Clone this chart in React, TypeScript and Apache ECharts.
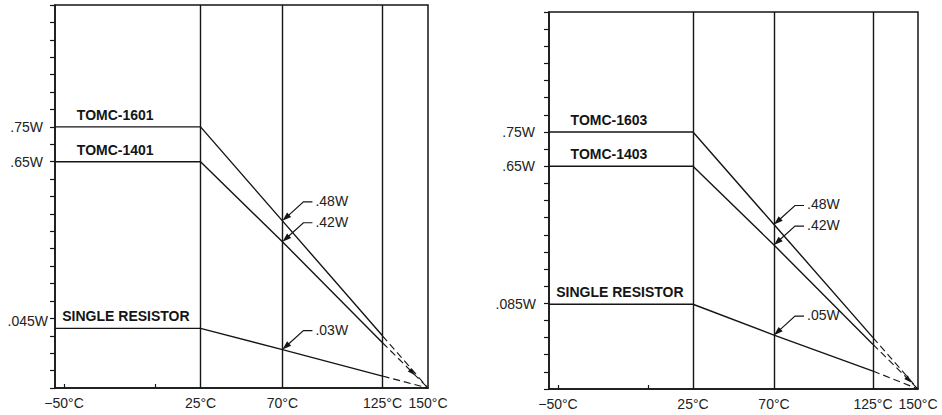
import React, { useEffect, useRef } from "react";
import * as echarts from "echarts";

// ---- data ----
const tempBreaks = [-55, 25, 70, 125]; // °C: axis start, derating knee, 70°C, 125°C
const zeroTemp = 150; // extrapolated zero-power temperature
const xLabelTemps = [-50, 25, 70, 125, 150];
const xMinorTicks = [-50, 0];
const gridTemps = [25, 70, 125];

// left panel
const aNames = ["TOMC-1601", "TOMC-1401", "SINGLE RESISTOR"];
const aTomcHigh = [0.75, 0.75, 0.48, 0.15];
const aTomcLow = [0.65, 0.65, 0.42, 0.13];
const aSingle = [0.045, 0.045, 0.029, 0.009];
const aCallouts = [".48W", ".42W", ".03W"];
const aYLabels = [0.75, 0.65];
const aSingleLabel = 0.045;

// right panel
const bNames = ["TOMC-1603", "TOMC-1403", "SINGLE RESISTOR"];
const bTomcHigh = [0.75, 0.75, 0.48, 0.15];
const bTomcLow = [0.65, 0.65, 0.42, 0.13];
const bSingle = [0.085, 0.085, 0.054, 0.018];
const bCallouts = [".48W", ".42W", ".05W"];
const bYLabels = [0.75, 0.65];
const bSingleLabel = 0.085;

const INK = "#151515";
const FONT = '"Liberation Sans", Arial, Helvetica, sans-serif';

const fmtW = (v: number) => String(v).replace(/^0\./, ".") + "W";
const near = (a: number, b: number) => Math.abs(a - b) < 1e-6;

export default function App() {
  const ref = useRef<HTMLDivElement>(null);
  useEffect(() => {
    if (!ref.current) return;
    const chart = echarts.init(ref.current, undefined, { renderer: "svg" });

    const panels = [
      { names: aNames, high: aTomcHigh, low: aTomcLow, single: aSingle, callouts: aCallouts, yLabels: aYLabels, singleLabel: aSingleLabel, singleMax: 0.289, yMargin: 12, sMargin: 7, sVA: "bottom", arrowT: 0.72 },
      { names: bNames, high: bTomcHigh, low: bTomcLow, single: bSingle, callouts: bCallouts, yLabels: bYLabels, singleLabel: bSingleLabel, singleMax: 0.378, yMargin: 14, sMargin: 13, sVA: "middle", arrowT: 0.86 },
    ];
    const grids = [
      { left: 55, top: 5, width: 373, height: 383 },
      { left: 549, top: 12, width: 369, height: 377 },
    ];

    const xAxis: any[] = [];
    const yAxis: any[] = [];
    const series: any[] = [];

    panels.forEach((p, gi) => {
      xAxis.push({
        type: "value",
        gridIndex: gi,
        min: -55,
        max: zeroTemp,
        axisLine: { show: true, onZero: false, lineStyle: { color: INK, width: 1.5 } },
        axisTick: { show: true, inside: true, length: 4, customValues: xMinorTicks, lineStyle: { color: INK, width: 1.2 } },
        axisLabel: {
          show: true,
          customValues: xLabelTemps,
          margin: 8,
          fontSize: 14,
          fontFamily: FONT,
          color: "#222",
          formatter: (v: number) => (v < 0 ? "\u2212" + Math.abs(v) + "°C" : v + "°C"),
        },
        splitLine: { show: false },
      });
      yAxis.push({
        type: "value",
        gridIndex: gi,
        position: "left",
        min: 0,
        max: 1.1,
        interval: 0.05,
        axisLine: { show: true, onZero: false, lineStyle: { color: INK, width: 1.5 } },
        axisTick: { show: true, length: 5, lineStyle: { color: INK, width: 1.2 } },
        axisLabel: {
          margin: p.yMargin,
          fontSize: 14,
          fontFamily: FONT,
          color: "#222",
          formatter: (v: number) => (p.yLabels.some((l) => near(l, v)) ? fmtW(v) : ""),
        },
        splitLine: { show: false },
      });
      yAxis.push({
        type: "value",
        gridIndex: gi,
        position: "left",
        offset: 0,
        min: 0,
        max: p.singleMax,
        interval: p.singleLabel,
        axisLine: { show: false, onZero: false },
        axisTick: { show: false },
        axisLabel: {
          margin: p.sMargin,
          fontSize: 14,
          fontFamily: FONT,
          color: "#222",
          verticalAlign: p.sVA,
          formatter: (v: number) => (near(v, p.singleLabel) ? fmtW(v) : ""),
        },
        splitLine: { show: false },
      });
      const yPrim = gi * 2;
      const ySec = gi * 2 + 1;
      const lines = [
        { name: p.names[0], vals: p.high, yi: yPrim },
        { name: p.names[1], vals: p.low, yi: yPrim },
        { name: p.names[2], vals: p.single, yi: ySec },
      ];
      lines.forEach((l, li) => {
        series.push({
          type: "line",
          name: l.name,
          xAxisIndex: gi,
          yAxisIndex: l.yi,
          data: tempBreaks.map((t, i) => [t, l.vals[i]]),
          symbol: "none",
          lineStyle: { color: INK, width: 1.4 },
          silent: true,
          markLine:
            li === 0
              ? {
                  silent: true,
                  symbol: ["none", "none"],
                  label: { show: false },
                  lineStyle: { color: INK, width: 1.4, type: "solid" },
                  data: gridTemps.map((t) => ({ xAxis: t })),
                }
              : undefined,
        });
        series.push({
          type: "line",
          name: l.name + " (extrapolated)",
          xAxisIndex: gi,
          yAxisIndex: l.yi,
          data: [
            [tempBreaks[3], l.vals[3]],
            [zeroTemp, 0],
          ],
          symbol: "none",
          lineStyle: { color: INK, width: 1.1, type: [7, 4] },
          silent: true,
        });
      });
    });

    chart.setOption({
      animation: false,
      backgroundColor: "#ffffff",
      grid: grids.map((g) => ({ ...g, show: true, borderColor: INK, borderWidth: 1.5, backgroundColor: "transparent" })),
      xAxis,
      yAxis,
      series,
    });

    // annotations anchored to data coordinates
    const graphic: any[] = [];
    panels.forEach((p, gi) => {
      const base = gi * 6;
      const vals = [p.high, p.low, p.single];
      vals.forEach((v, li) => {
        const sIdx = base + li * 2;
        // series name label
        const labelX = li === 2 ? -51 : -43;
        const lp = chart.convertToPixel({ seriesIndex: sIdx }, [labelX, v[0]]) as number[];
        graphic.push({
          type: "text",
          x: lp[0],
          y: lp[1] - 12,
          style: { text: p.names[li], font: `bold 14px ${FONT}`, fill: INK, align: "left", verticalAlign: "middle" },
          silent: true,
        });
        // callout at 70°C
        const tip = chart.convertToPixel({ seriesIndex: sIdx }, [tempBreaks[2], v[2]]) as number[];
        const [tx, ty] = tip;
        const dx = 21, dy = -19;
        const len = Math.hypot(dx, dy);
        const ux = dx / len, uy = dy / len;
        const bx = tx + ux * 9, by = ty + uy * 9;
        const px = -uy, py = ux;
        graphic.push({
          type: "polyline",
          shape: { points: [[tx + 30, ty - 19], [tx + 21, ty - 19], [tx + ux * 6, ty + uy * 6]] },
          style: { stroke: INK, lineWidth: 1.2, fill: null },
          silent: true,
        });
        graphic.push({
          type: "polygon",
          shape: { points: [[tx, ty], [bx + px * 3, by + py * 3], [bx - px * 3, by - py * 3]] },
          style: { fill: INK },
          silent: true,
        });
        graphic.push({
          type: "text",
          x: tx + 33,
          y: ty - 20,
          style: { text: p.callouts[li], font: `14px ${FONT}`, fill: "#222", align: "left", verticalAlign: "middle" },
          silent: true,
        });
      });
      // arrowhead along the extrapolated (dashed) line
      const dIdx = base + 3;
      const a = chart.convertToPixel({ seriesIndex: dIdx }, [tempBreaks[3], p.low[3]]) as number[];
      const b = chart.convertToPixel({ seriesIndex: dIdx }, [zeroTemp, 0]) as number[];
      const t = p.arrowT;
      const tipX = a[0] + (b[0] - a[0]) * t;
      const tipY = a[1] + (b[1] - a[1]) * t;
      const L = Math.hypot(b[0] - a[0], b[1] - a[1]);
      const ux = (b[0] - a[0]) / L, uy = (b[1] - a[1]) / L;
      const bx = tipX - ux * 8, by = tipY - uy * 8;
      graphic.push({
        type: "polygon",
        shape: { points: [[tipX, tipY], [bx - uy * 2.5, by + ux * 2.5], [bx + uy * 2.5, by - ux * 2.5]] },
        style: { fill: INK },
        silent: true,
      });
    });
    chart.setOption({ graphic });

    return () => chart.dispose();
  }, []);

  return (
    <div
      ref={ref}
      style={{ position: "absolute", left: 0, top: 0, width: 942, height: 415, background: "#fff" }}
    />
  );
}
